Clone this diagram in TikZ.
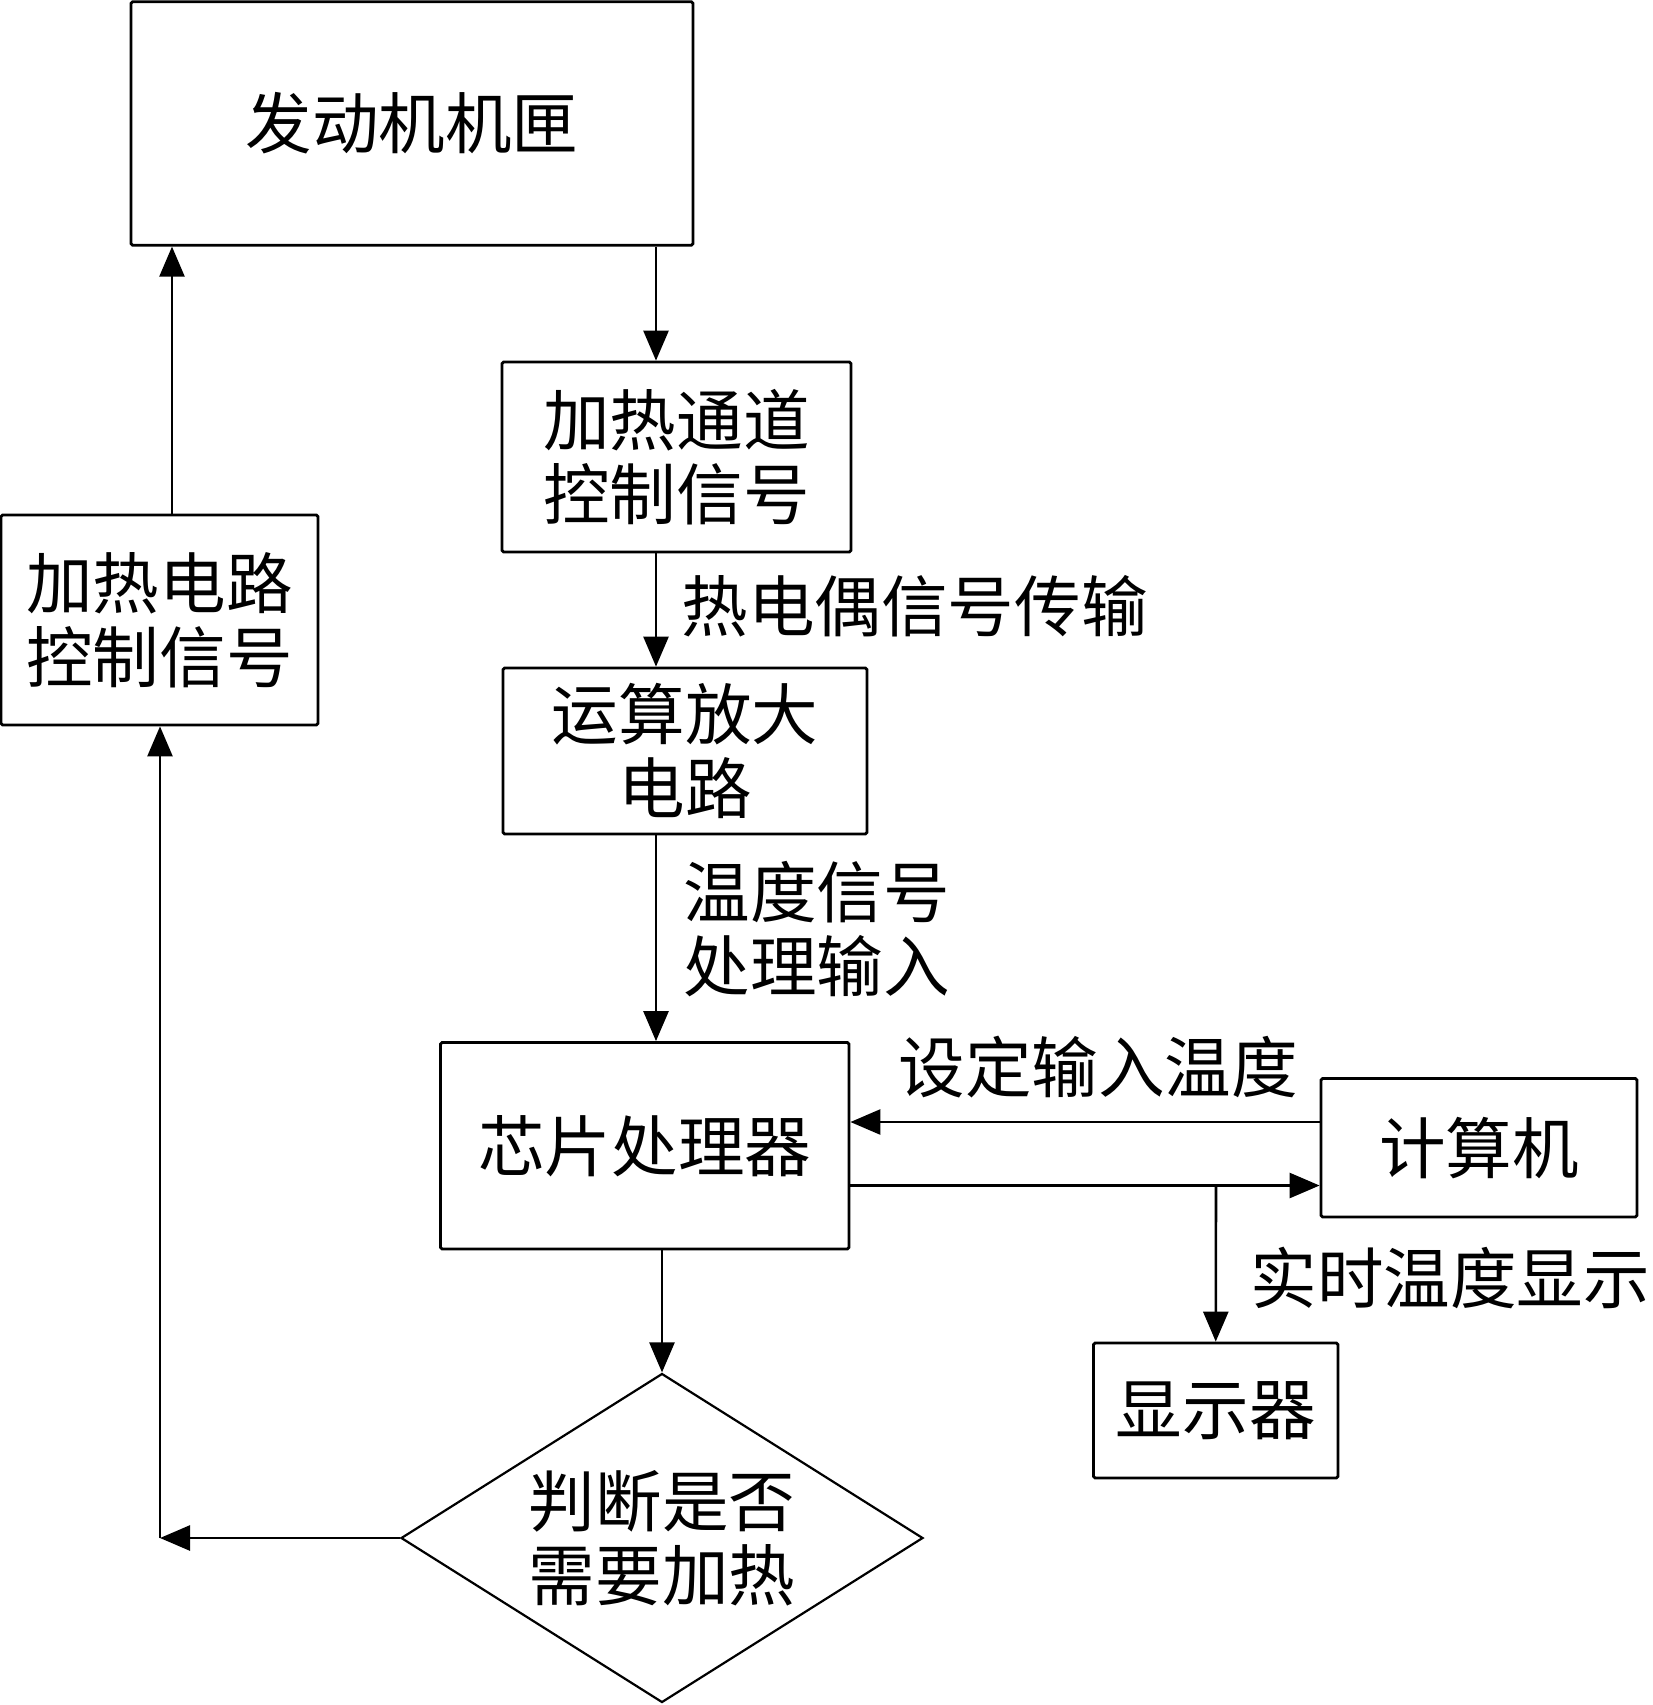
\documentclass[tikz,border=0pt]{standalone}
\usepackage{fontspec}
\newfontfamily\cjk{Noto Sans CJK SC}
\usetikzlibrary{arrows.meta,shapes.geometric}
\begin{document}
\begin{tikzpicture}[x=0.5pt,y=-0.5pt,
  txt/.style={font=\cjk\fontsize{33.3}{37}\selectfont, inner sep=0pt},
  box/.style={txt, draw, line width=1.4pt, rounded corners=0.8pt, align=center},
  lbl/.style={txt, anchor=west, align=left},
  arr/.style={line width=1.3pt, -{Triangle[length=15pt,width=12.5pt]}},
  ln/.style={line width=1.3pt}]
\useasboundingbox (0,0) rectangle (1653,1705);
\fill[white] (0,0) rectangle (1653,1705);

\node[box, minimum width=281pt, minimum height=121.75pt] (engine) at (412,123.5) {发动机机匣};
\node[box, minimum width=174.5pt, minimum height=95pt] (hcc) at (676.5,457) {加热通道\\控制信号};
\node[box, minimum width=182pt, minimum height=83pt] (amp) at (685,751) {运算放大\\电路};
\node[box, minimum width=204.25pt, minimum height=103.25pt] (chip) at (644.75,1145.75) {芯片处理器};
\node[box, minimum width=158pt, minimum height=69.25pt] (comp) at (1479,1147.75) {计算机};
\node[box, minimum width=122.25pt, minimum height=67.5pt] (disp) at (1215.75,1410.5) {显示器};
\node[box, minimum width=158.5pt, minimum height=105pt] (hc) at (159.5,620) {加热电路\\控制信号};
\node[txt, shape=diamond, draw, line width=1.1pt, align=center, aspect=1.587,
      minimum width=261pt, minimum height=164.5pt] (dia) at (662,1538) {判断是否\\需要加热};

\coordinate (xa) at (656,0);
\coordinate (xl) at (172,0);
\coordinate (corner) at (160,1538);
\coordinate (yin) at (0,1122);
\coordinate (yout) at (0,1185.5);
\coordinate (branch) at (1216,1185.5);

\draw[arr] (engine.south -| xa) -- (hcc.north -| xa);
\draw[arr] (hcc.south -| xa) -- (amp.north -| xa);
\draw[arr] (amp.south -| xa) -- (chip.north -| xa);
\draw[arr] (chip.south -| dia.north) -- (dia.north);
\draw[arr] (dia.west) -- (corner);
\draw[arr] (corner) -- (hc.south -| corner);
\draw[arr] (hc.north -| xl) -- (engine.south -| xl);
\draw[arr] (comp.west |- yin) -- (chip.east |- yin);
\draw[arr] (chip.east |- yout) -- (comp.west |- yout);
\draw[arr] (branch) -- (disp.north);

\node[lbl] (l1) at (681,606) {热电偶信号传输};
\node[lbl] (l2) at (683,929.5) {温度信号\\处理输入};
\node[lbl] (l3) at (898,1067) {设定输入温度};
\node[lbl] (l4) at (1250,1278) {实时温度显示};
\end{tikzpicture}
\end{document}
